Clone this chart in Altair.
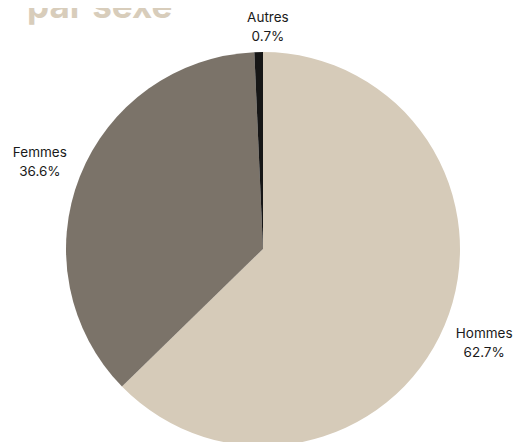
import altair as alt
import pandas as pd

categories = ["Hommes", "Femmes", "Autres"]
values = [62.7, 36.6, 0.7]
colors = ["#d6cbb9", "#7b7369", "#161616"]
title_text = "par sexe"

df = pd.DataFrame({
    "cat": categories,
    "val": values,
    "idx": list(range(len(categories))),
})
df["label"] = [f"{c}\n{v}%" for c, v in zip(categories, values)]

CX, CY, R = 255, 241, 197

base = alt.Chart(df).encode(
    theta=alt.Theta("val:Q", stack=True),
    order=alt.Order("idx:Q"),
)

pie = base.mark_arc(strokeWidth=0).encode(
    x=alt.value(CX), y=alt.value(CY),
    radius=alt.value(R),
    color=alt.Color("cat:N", scale=alt.Scale(domain=categories, range=colors), legend=None),
)

txt_style = dict(font="Inter", fontSize=13.5, color="#1a1a1a", lineBreak="\n", lineHeight=19,
                 baseline="middle", align="center", dy=-8)

labels_main = base.mark_text(**txt_style).encode(
    x=alt.value(CX), y=alt.value(CY), radius=alt.value(240), text="label:N",
).transform_filter(alt.FieldOneOfPredicate(field="cat", oneOf=["Hommes", "Femmes"]))

labels_small = base.mark_text(**txt_style).encode(
    x=alt.value(CX), y=alt.value(CY), radius=alt.value(223), text="label:N",
).transform_filter(alt.FieldEqualPredicate(field="cat", equal="Autres"))

title = alt.Chart(pd.DataFrame({"t": [title_text]})).mark_text(
    font="Inter", fontSize=35, fontWeight="bold", color="#d8cdbb", align="left", baseline="alphabetic"
).encode(x=alt.value(19), y=alt.value(10), text="t:N")

chart = alt.layer(pie, labels_main, labels_small, title).properties(
    width=505, height=434, autosize=alt.AutoSizeParams(type="none"), padding=0,
).configure_view(stroke=None)

chart.save("out.html", embed_options={"renderer": "svg", "actions": False})
